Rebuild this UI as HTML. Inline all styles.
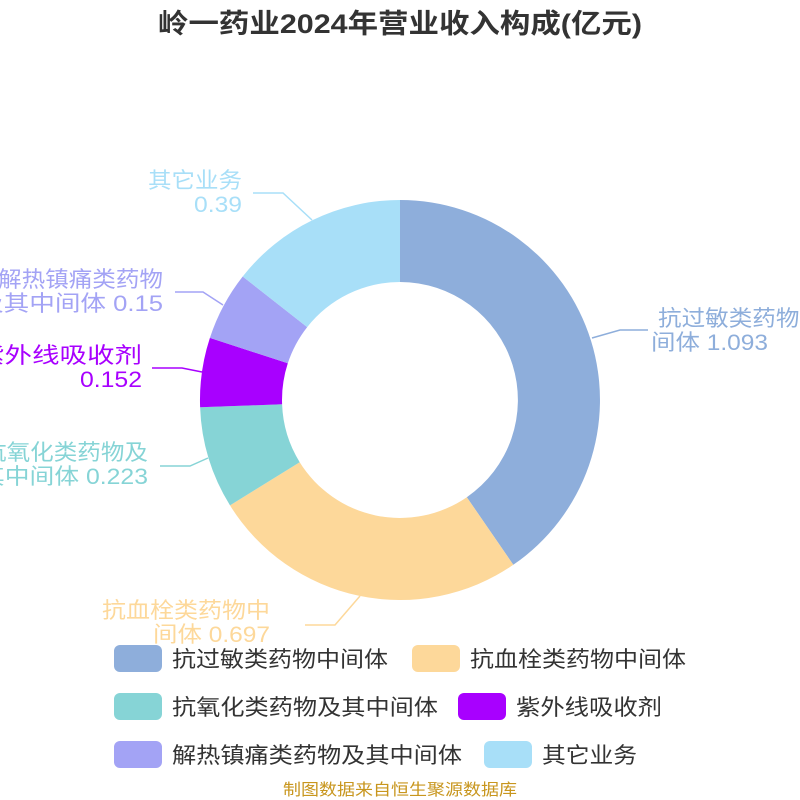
<!DOCTYPE html>
<html><head><meta charset="utf-8"><style>
html,body{margin:0;padding:0;background:#fff;}
svg{display:block;font-family:"Liberation Sans","Noto Sans CJK SC",sans-serif;}
</style></head><body>
<svg width="800" height="800" viewBox="0 0 800 800" xmlns="http://www.w3.org/2000/svg">
<text x="158" y="33" textLength="484" lengthAdjust="spacingAndGlyphs" font-size="27" font-weight="bold" fill="#333">岭一药业2024年营业收入构成(亿元)</text>
<path d="M400,200 A200,200 0 0 1 513.3,564.8 L466.8,497.2 A118,118 0 0 0 400,282 Z" fill="#8eaedb"/>
<path d="M513.3,564.8 A200,200 0 0 1 230.0,505.4 L299.7,462.2 A118,118 0 0 0 466.8,497.2 Z" fill="#fdd89a"/>
<path d="M230.0,505.4 A200,200 0 0 1 200.1,407.3 L282.1,404.3 A118,118 0 0 0 299.7,462.2 Z" fill="#86d4d6"/>
<path d="M200.1,407.3 A200,200 0 0 1 209.9,337.9 L287.8,363.3 A118,118 0 0 0 282.1,404.3 Z" fill="#a800ff"/>
<path d="M209.9,337.9 A200,200 0 0 1 242.7,276.5 L307.2,327.1 A118,118 0 0 0 287.8,363.3 Z" fill="#a3a3f5"/>
<path d="M242.7,276.5 A200,200 0 0 1 400,200 L400,282 A118,118 0 0 0 307.2,327.1 Z" fill="#a8dff8"/>
<g fill="none" stroke-width="1.5">
<polyline points="312,220 283,193 253,193" stroke="#a8dff8"/>
<polyline points="223,305 203,292 175,292" stroke="#a3a3f5"/>
<polyline points="202,372 182,368 152,368" stroke="#a800ff"/>
<polyline points="208,458 190,466 160,466" stroke="#86d4d6"/>
<polyline points="592,338 620,330 648,330" stroke="#8eaedb"/>
<polyline points="360,596 335,625 305,625" stroke="#fdd89a"/>
</g>
<g font-size="22" lengthAdjust="spacingAndGlyphs">
<text x="148" y="188" textLength="94" lengthAdjust="spacingAndGlyphs" fill="#a8dff8">其它业务</text>
<text x="194" y="212" textLength="48" lengthAdjust="spacingAndGlyphs" fill="#a8dff8">0.39</text>
<text x="-2" y="287" textLength="165" lengthAdjust="spacingAndGlyphs" fill="#a3a3f5">解热镇痛类药物</text>
<text x="-22" y="311" textLength="185" lengthAdjust="spacingAndGlyphs" fill="#a3a3f5">及其中间体 0.15</text>
<text x="-23" y="363" textLength="165" lengthAdjust="spacingAndGlyphs" fill="#a800ff">紫外线吸收剂</text>
<text x="80" y="387" textLength="62" lengthAdjust="spacingAndGlyphs" fill="#a800ff">0.152</text>
<text x="-17" y="460" textLength="165" lengthAdjust="spacingAndGlyphs" fill="#86d4d6">抗氧化类药物及</text>
<text x="-20" y="484" textLength="168" lengthAdjust="spacingAndGlyphs" fill="#86d4d6">其中间体 0.223</text>
<text x="658" y="326" textLength="165" lengthAdjust="spacingAndGlyphs" fill="#8eaedb">抗过敏类药物中</text>
<text x="651" y="350" textLength="117" lengthAdjust="spacingAndGlyphs" fill="#8eaedb">间体 1.093</text>
<text x="102" y="618" textLength="168" lengthAdjust="spacingAndGlyphs" fill="#fdd89a">抗血栓类药物中</text>
<text x="153" y="642" textLength="117" lengthAdjust="spacingAndGlyphs" fill="#fdd89a">间体 0.697</text>
</g>
<g font-size="22" fill="#333">
<rect x="114" y="645" width="48" height="27" rx="6" fill="#8eaedb"/><text x="172" y="667" textLength="216" lengthAdjust="spacingAndGlyphs">抗过敏类药物中间体</text>
<rect x="412" y="645" width="48" height="27" rx="6" fill="#fdd89a"/><text x="470" y="667" textLength="216" lengthAdjust="spacingAndGlyphs">抗血栓类药物中间体</text>
<rect x="114" y="693" width="48" height="27" rx="6" fill="#86d4d6"/><text x="172" y="715" textLength="266" lengthAdjust="spacingAndGlyphs">抗氧化类药物及其中间体</text>
<rect x="458" y="693" width="48" height="27" rx="6" fill="#a800ff"/><text x="516" y="715" textLength="146" lengthAdjust="spacingAndGlyphs">紫外线吸收剂</text>
<rect x="114" y="741" width="48" height="27" rx="6" fill="#a3a3f5"/><text x="172" y="763" textLength="290" lengthAdjust="spacingAndGlyphs">解热镇痛类药物及其中间体</text>
<rect x="484" y="741" width="48" height="27" rx="6" fill="#a8dff8"/><text x="542" y="763" textLength="95" lengthAdjust="spacingAndGlyphs">其它业务</text>
</g>
<text x="283" y="795" textLength="234" lengthAdjust="spacingAndGlyphs" font-size="16" fill="#c8961e">制图数据来自恒生聚源数据库</text>
</svg>
</body></html>
